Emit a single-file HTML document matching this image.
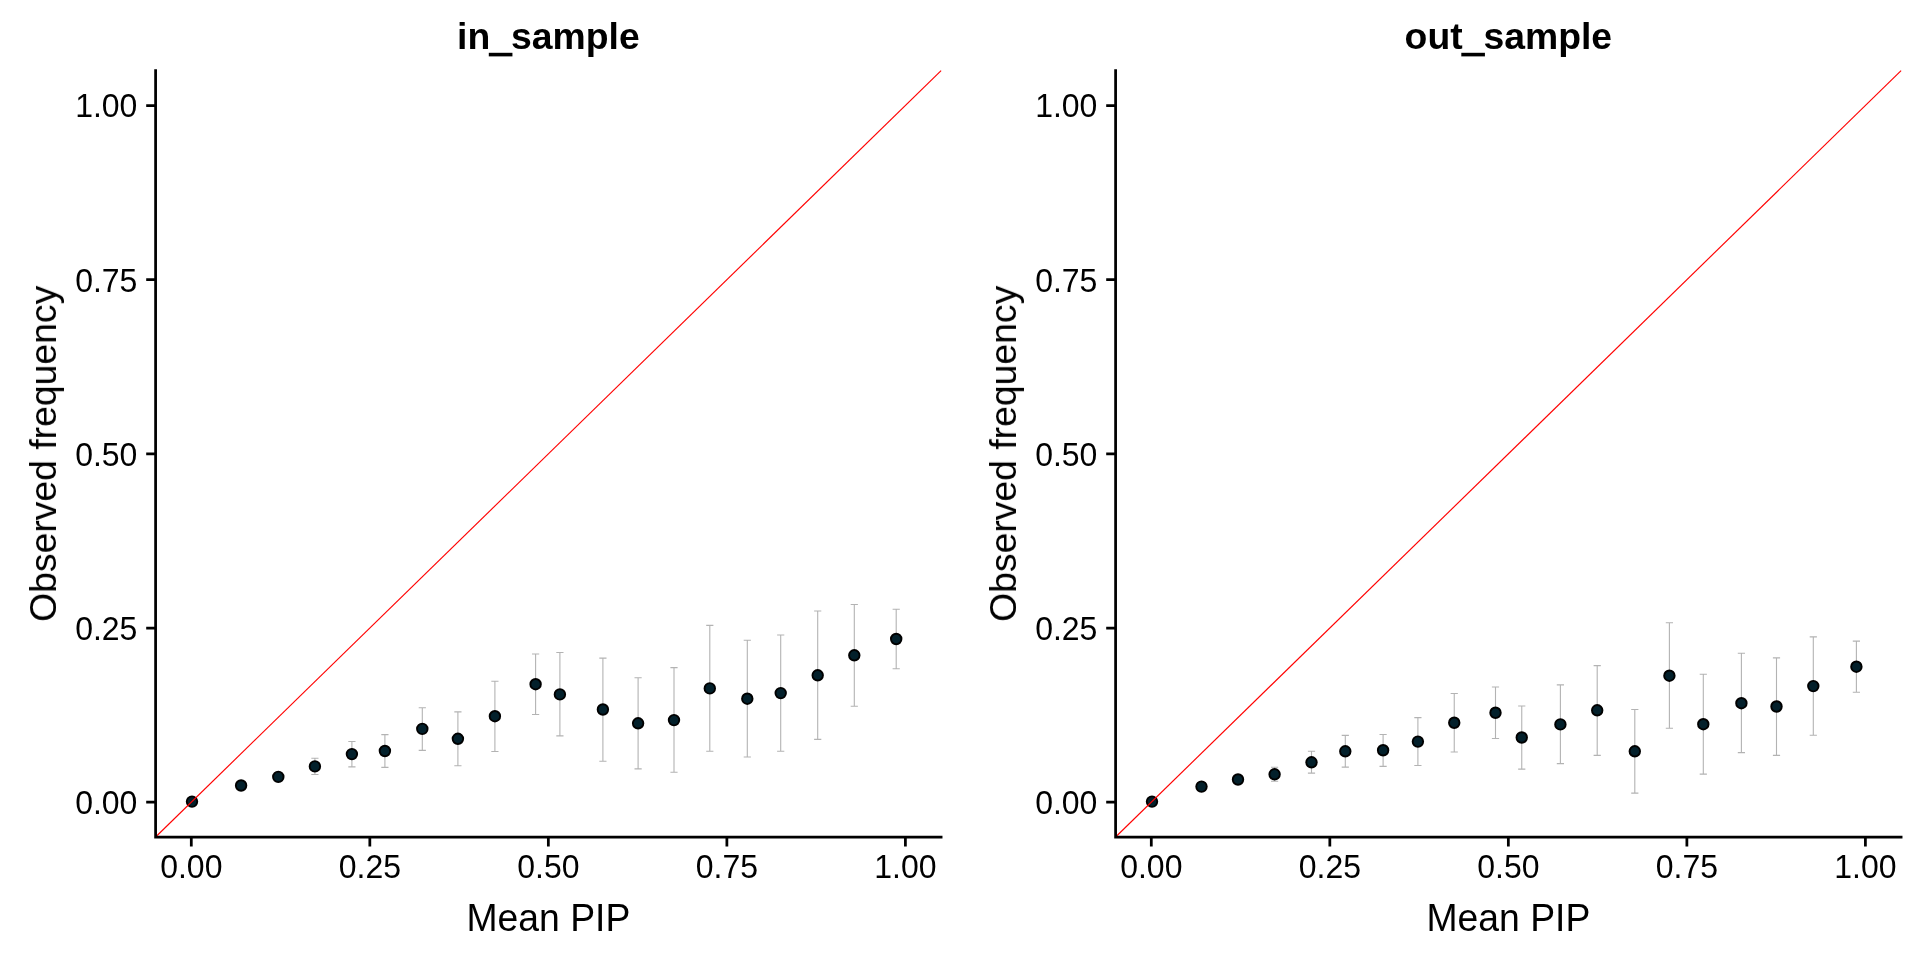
<!DOCTYPE html>
<html><head><meta charset="utf-8"><title>Calibration plot</title>
<style>
html,body{margin:0;padding:0;background:#fff;}
svg{display:block;}
text{font-family:"Liberation Sans", Arial, sans-serif;fill:#000;}
.txt{filter:grayscale(1);}
.tl{font-size:32px;}
.at{font-size:37.33px;}
.st{font-size:37.33px;font-weight:bold;}
.us{stroke:#000;stroke-width:2.2px;}
.eb{stroke:#b3b3b3;stroke-width:1.1;fill:none;}
.pt{fill:#03202b;stroke:#000;stroke-width:1.9;}
.ab{stroke:#ff0000;stroke-width:1.15;}
.ax{stroke:#000;stroke-width:2.75;fill:none;stroke-linecap:square;}
.tk{stroke:#000;stroke-width:2.75;fill:none;}
</style></head>
<body>
<svg width="1920" height="960" viewBox="0 0 1920 960">
<rect width="1920" height="960" fill="#fff"/>
<path d="M311.30 758.30H318.50M314.90 758.30V774.50M311.30 774.50H318.50" class="eb"/>
<path d="M348.30 741.50H355.50M351.90 741.50V766.90M348.30 766.90H355.50" class="eb"/>
<path d="M381.30 734.60H388.50M384.90 734.60V767.40M381.30 767.40H388.50" class="eb"/>
<path d="M418.70 707.80H425.90M422.30 707.80V750.40M418.70 750.40H425.90" class="eb"/>
<path d="M454.30 711.90H461.50M457.90 711.90V765.70M454.30 765.70H461.50" class="eb"/>
<path d="M491.30 681.30H498.50M494.90 681.30V751.50M491.30 751.50H498.50" class="eb"/>
<path d="M532.00 654.00H539.20M535.60 654.00V714.50M532.00 714.50H539.20" class="eb"/>
<path d="M556.30 652.50H563.50M559.90 652.50V735.90M556.30 735.90H563.50" class="eb"/>
<path d="M599.30 658.10H606.50M602.90 658.10V761.20M599.30 761.20H606.50" class="eb"/>
<path d="M634.50 677.70H641.70M638.10 677.70V768.90M634.50 768.90H641.70" class="eb"/>
<path d="M670.40 667.60H677.60M674.00 667.60V772.20M670.40 772.20H677.60" class="eb"/>
<path d="M706.20 625.40H713.40M709.80 625.40V751.20M706.20 751.20H713.40" class="eb"/>
<path d="M743.70 640.20H750.90M747.30 640.20V757.00M743.70 757.00H750.90" class="eb"/>
<path d="M777.10 635.00H784.30M780.70 635.00V751.20M777.10 751.20H784.30" class="eb"/>
<path d="M814.10 611.00H821.30M817.70 611.00V739.40M814.10 739.40H821.30" class="eb"/>
<path d="M850.70 604.50H857.90M854.30 604.50V706.20M850.70 706.20H857.90" class="eb"/>
<path d="M892.60 609.30H899.80M896.20 609.30V668.80M892.60 668.80H899.80" class="eb"/>
<circle cx="192.00" cy="801.60" r="5.25" class="pt"/>
<circle cx="241.10" cy="785.50" r="5.25" class="pt"/>
<circle cx="278.30" cy="776.90" r="5.25" class="pt"/>
<circle cx="314.90" cy="766.40" r="5.25" class="pt"/>
<circle cx="351.90" cy="754.10" r="5.25" class="pt"/>
<circle cx="384.90" cy="751.00" r="5.25" class="pt"/>
<circle cx="422.30" cy="728.90" r="5.25" class="pt"/>
<circle cx="457.90" cy="738.80" r="5.25" class="pt"/>
<circle cx="494.90" cy="716.20" r="5.25" class="pt"/>
<circle cx="535.60" cy="684.20" r="5.25" class="pt"/>
<circle cx="559.90" cy="694.40" r="5.25" class="pt"/>
<circle cx="602.90" cy="709.50" r="5.25" class="pt"/>
<circle cx="638.10" cy="723.30" r="5.25" class="pt"/>
<circle cx="674.00" cy="720.10" r="5.25" class="pt"/>
<circle cx="709.80" cy="688.40" r="5.25" class="pt"/>
<circle cx="747.30" cy="698.70" r="5.25" class="pt"/>
<circle cx="780.70" cy="693.10" r="5.25" class="pt"/>
<circle cx="817.70" cy="675.30" r="5.25" class="pt"/>
<circle cx="854.30" cy="655.30" r="5.25" class="pt"/>
<circle cx="896.20" cy="639.00" r="5.25" class="pt"/>
<line x1="155.6" y1="837.0" x2="941.1" y2="70.7" class="ab"/>
<path d="M155.6 70.7V837.0H941.1" class="ax"/>
<path d="M146.20 802.20H155.60M191.30 837.00V846.40M146.20 628.03H155.60M369.83 837.00V846.40M146.20 453.85H155.60M548.35 837.00V846.40M146.20 279.67H155.60M726.88 837.00V846.40M146.20 105.50H155.60M905.40 837.00V846.40" class="tk"/>
<g class="txt">
<text transform="translate(137.40 814) scale(1 1.04)" class="tl" text-anchor="end">0.00</text>
<text transform="translate(191.30 878) scale(1 1.04)" class="tl" text-anchor="middle">0.00</text>
<text transform="translate(137.40 640) scale(1 1.04)" class="tl" text-anchor="end">0.25</text>
<text transform="translate(369.83 878) scale(1 1.04)" class="tl" text-anchor="middle">0.25</text>
<text transform="translate(137.40 466) scale(1 1.04)" class="tl" text-anchor="end">0.50</text>
<text transform="translate(548.35 878) scale(1 1.04)" class="tl" text-anchor="middle">0.50</text>
<text transform="translate(137.40 292) scale(1 1.04)" class="tl" text-anchor="end">0.75</text>
<text transform="translate(726.88 878) scale(1 1.04)" class="tl" text-anchor="middle">0.75</text>
<text transform="translate(137.40 117) scale(1 1.04)" class="tl" text-anchor="end">1.00</text>
<text transform="translate(905.40 878) scale(1 1.04)" class="tl" text-anchor="middle">1.00</text>
<text transform="translate(548.35 49.1)" class="st" text-anchor="middle">in<tspan dy="1.9" class="us">_</tspan><tspan dy="-1.9">sample</tspan></text>
<text transform="translate(548.35 931) scale(1 1.02)" class="at" text-anchor="middle">Mean PIP</text>
<text transform="translate(56.00 453.85) rotate(-90)" class="at" text-anchor="middle">Observed frequency</text>
</g>
<path d="M1271.00 767.30H1278.20M1274.60 767.30V781.30M1271.00 781.30H1278.20" class="eb"/>
<path d="M1307.90 751.30H1315.10M1311.50 751.30V773.10M1307.90 773.10H1315.10" class="eb"/>
<path d="M1341.70 735.40H1348.90M1345.30 735.40V767.10M1341.70 767.10H1348.90" class="eb"/>
<path d="M1379.50 734.50H1386.70M1383.10 734.50V766.40M1379.50 766.40H1386.70" class="eb"/>
<path d="M1414.30 717.60H1421.50M1417.90 717.60V765.50M1414.30 765.50H1421.50" class="eb"/>
<path d="M1450.65 693.50H1457.85M1454.25 693.50V752.00M1450.65 752.00H1457.85" class="eb"/>
<path d="M1491.90 687.00H1499.10M1495.50 687.00V738.50M1491.90 738.50H1499.10" class="eb"/>
<path d="M1518.15 706.00H1525.35M1521.75 706.00V769.10M1518.15 769.10H1525.35" class="eb"/>
<path d="M1556.80 684.90H1564.00M1560.40 684.90V763.60M1556.80 763.60H1564.00" class="eb"/>
<path d="M1593.60 665.60H1600.80M1597.20 665.60V755.40M1593.60 755.40H1600.80" class="eb"/>
<path d="M1631.20 709.50H1638.40M1634.80 709.50V793.10M1631.20 793.10H1638.40" class="eb"/>
<path d="M1665.80 622.70H1673.00M1669.40 622.70V728.30M1665.80 728.30H1673.00" class="eb"/>
<path d="M1699.70 674.30H1706.90M1703.30 674.30V774.10M1699.70 774.10H1706.90" class="eb"/>
<path d="M1737.80 653.30H1745.00M1741.40 653.30V752.60M1737.80 752.60H1745.00" class="eb"/>
<path d="M1772.90 657.90H1780.10M1776.50 657.90V755.40M1772.90 755.40H1780.10" class="eb"/>
<path d="M1809.70 636.90H1816.90M1813.30 636.90V735.30M1809.70 735.30H1816.90" class="eb"/>
<path d="M1852.80 641.10H1860.00M1856.40 641.10V692.30M1852.80 692.30H1860.00" class="eb"/>
<circle cx="1152.00" cy="801.60" r="5.25" class="pt"/>
<circle cx="1201.50" cy="786.60" r="5.25" class="pt"/>
<circle cx="1238.00" cy="779.50" r="5.25" class="pt"/>
<circle cx="1274.60" cy="774.30" r="5.25" class="pt"/>
<circle cx="1311.50" cy="762.30" r="5.25" class="pt"/>
<circle cx="1345.30" cy="751.30" r="5.25" class="pt"/>
<circle cx="1383.10" cy="750.25" r="5.25" class="pt"/>
<circle cx="1417.90" cy="741.60" r="5.25" class="pt"/>
<circle cx="1454.25" cy="722.75" r="5.25" class="pt"/>
<circle cx="1495.50" cy="712.75" r="5.25" class="pt"/>
<circle cx="1521.75" cy="737.50" r="5.25" class="pt"/>
<circle cx="1560.40" cy="724.40" r="5.25" class="pt"/>
<circle cx="1597.20" cy="710.30" r="5.25" class="pt"/>
<circle cx="1634.80" cy="751.30" r="5.25" class="pt"/>
<circle cx="1669.40" cy="675.70" r="5.25" class="pt"/>
<circle cx="1703.30" cy="724.20" r="5.25" class="pt"/>
<circle cx="1741.40" cy="703.20" r="5.25" class="pt"/>
<circle cx="1776.50" cy="706.50" r="5.25" class="pt"/>
<circle cx="1813.30" cy="686.10" r="5.25" class="pt"/>
<circle cx="1856.40" cy="666.70" r="5.25" class="pt"/>
<line x1="1115.6" y1="837.0" x2="1901.1" y2="70.7" class="ab"/>
<path d="M1115.6 70.7V837.0H1901.1" class="ax"/>
<path d="M1106.20 802.20H1115.60M1151.30 837.00V846.40M1106.20 628.03H1115.60M1329.83 837.00V846.40M1106.20 453.85H1115.60M1508.35 837.00V846.40M1106.20 279.67H1115.60M1686.88 837.00V846.40M1106.20 105.50H1115.60M1865.40 837.00V846.40" class="tk"/>
<g class="txt">
<text transform="translate(1097.40 814) scale(1 1.04)" class="tl" text-anchor="end">0.00</text>
<text transform="translate(1151.30 878) scale(1 1.04)" class="tl" text-anchor="middle">0.00</text>
<text transform="translate(1097.40 640) scale(1 1.04)" class="tl" text-anchor="end">0.25</text>
<text transform="translate(1329.83 878) scale(1 1.04)" class="tl" text-anchor="middle">0.25</text>
<text transform="translate(1097.40 466) scale(1 1.04)" class="tl" text-anchor="end">0.50</text>
<text transform="translate(1508.35 878) scale(1 1.04)" class="tl" text-anchor="middle">0.50</text>
<text transform="translate(1097.40 292) scale(1 1.04)" class="tl" text-anchor="end">0.75</text>
<text transform="translate(1686.88 878) scale(1 1.04)" class="tl" text-anchor="middle">0.75</text>
<text transform="translate(1097.40 117) scale(1 1.04)" class="tl" text-anchor="end">1.00</text>
<text transform="translate(1865.40 878) scale(1 1.04)" class="tl" text-anchor="middle">1.00</text>
<text transform="translate(1508.35 49.1)" class="st" text-anchor="middle">out<tspan dy="1.9" class="us">_</tspan><tspan dy="-1.9">sample</tspan></text>
<text transform="translate(1508.35 931) scale(1 1.02)" class="at" text-anchor="middle">Mean PIP</text>
<text transform="translate(1016.00 453.85) rotate(-90)" class="at" text-anchor="middle">Observed frequency</text>
</g>
</svg>
</body></html>
